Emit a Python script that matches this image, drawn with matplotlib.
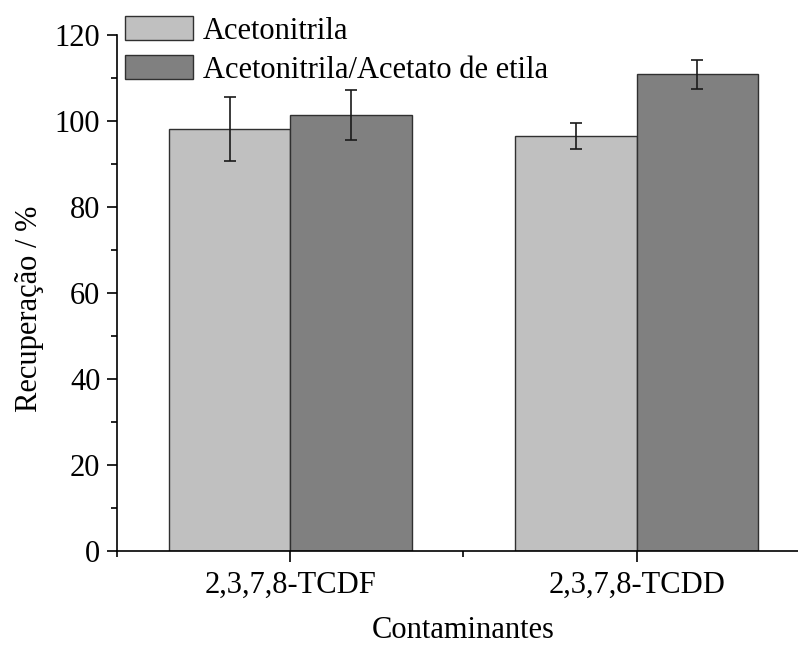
import numpy as np
import matplotlib
matplotlib.use("Agg")
import matplotlib.pyplot as plt
from matplotlib.ticker import MultipleLocator, FixedLocator

plt.rcParams['font.family'] = ['Liberation Serif', 'DejaVu Serif']
plt.rcParams['font.size'] = 22

categories = ['2,3,7,8-TCDF', '2,3,7,8-TCDD']
series = ['Acetonitrila', 'Acetonitrila/Acetato de etila']
acn = [98.1, 96.5]
acn_err = [7.4, 3.0]
acn_ac = [101.4, 110.9]
acn_ac_err = [5.8, 3.35]

fig = plt.figure(figsize=(7.98, 6.45), dpi=100)
# axis runs past the right edge of the figure, as in the original
ax = fig.add_axes([0.1466, 0.1457, 0.8684, 0.8])

x = np.arange(len(categories))
w = 0.35
ekw = dict(ecolor='#1a1a1a', elinewidth=1.2, capsize=4, capthick=1.2)
ax.bar(x - w/2, acn, w, yerr=acn_err, color='#c0c0c0', edgecolor='#303030',
       linewidth=1.0, label=series[0], error_kw=ekw)
ax.bar(x + w/2, acn_ac, w, yerr=acn_ac_err, color='#808080', edgecolor='#303030',
       linewidth=1.0, label=series[1], error_kw=ekw)

ax.set_xlim(-0.5, 1.5)
ax.set_ylim(0, 120)
ax.set_xticks(x)
ax.set_xticklabels(categories)
ax.xaxis.set_minor_locator(FixedLocator([-0.5, 0.5, 1.5]))
ax.yaxis.set_major_locator(MultipleLocator(20))
ax.yaxis.set_minor_locator(MultipleLocator(10))

for s in ['top', 'right']:
    ax.spines[s].set_visible(False)
for s in ['left', 'bottom']:
    ax.spines[s].set_linewidth(1.2)

ax.tick_params(axis='x', which='major', length=8, width=1.2, pad=6)
ax.tick_params(axis='x', which='minor', length=4.5, width=1.2)
ax.tick_params(axis='y', which='major', length=7, width=1.2, pad=5)
ax.tick_params(axis='y', which='minor', length=4, width=1.2)

ax.set_ylabel('Recuperação / %')
ax.yaxis.set_label_coords(-0.106, 0.47)
ax.set_xlabel('Contaminantes', labelpad=12)

ax.legend(loc='upper left', bbox_to_anchor=(0.0115, 1.037), frameon=False,
          borderpad=0, borderaxespad=0, handlelength=2.22, handleheight=0.85,
          handletextpad=0.33, labelspacing=0.3)

fig.savefig('out.png', dpi=100)
